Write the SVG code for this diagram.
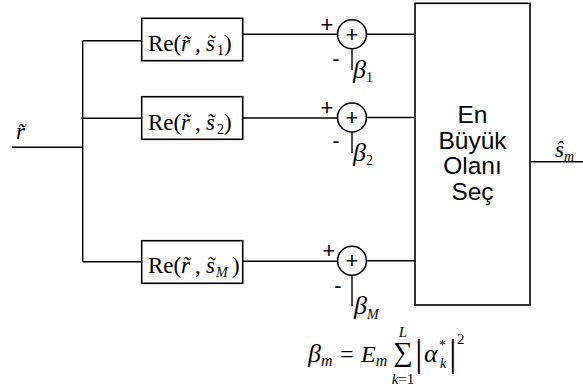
<svg xmlns="http://www.w3.org/2000/svg" width="583" height="387" viewBox="0 0 583 387">
<style>
.ln{stroke:#000;stroke-width:1.4;fill:none}
.bx{stroke:#000;stroke-width:1.6;fill:#fff}
.m{font-family:"Liberation Serif","Times New Roman",serif;font-size:23px;fill:#000}
.i{font-style:italic}
.sub{font-size:14px}
.s{font-family:"Liberation Sans",Arial,sans-serif;fill:#000}
.big{font-size:24.5px;text-anchor:middle}
.pm{font-size:22px;text-anchor:middle}
.beta{font-size:26px}
</style>
<rect width="583" height="387" fill="#fff"/>
<g id="connectors">
<path class="ln" d="M12 147.3H82.7M82.7 40.7V261.7M82.7 40.7H141.7M81.5 118.3H141.7M82.7 261.7H141.7"/>
<path class="ln" d="M242.7 34.3H337.5M242.7 118H337.5M242.7 261.2H337.5"/>
<path class="ln" d="M366.5 34.3H415M366.5 117.5H415M366.5 260.7H415"/>
<path class="ln" d="M352 48.8V70M352 132V153M352 275V306"/>
<path class="ln" d="M530 161.7H583"/>
</g>
<g id="input"><text class="m i" x="16" y="139">r&#771;</text></g>
<g id="re1">
<rect class="bx" x="141.7" y="18.3" width="101" height="42.4"/>
<text class="m" y="51"><tspan x="148">Re(</tspan><tspan class="i" x="181">r&#771;</tspan><tspan x="195">,</tspan><tspan class="i" x="206">s&#771;</tspan><tspan class="sub" x="217" dy="4">1</tspan><tspan x="224" dy="-4">)</tspan></text>
</g>
<g id="re2">
<rect class="bx" x="141.7" y="96.7" width="101" height="42.6"/>
<text class="m" y="129.5"><tspan x="148">Re(</tspan><tspan class="i" x="181">r&#771;</tspan><tspan x="195">,</tspan><tspan class="i" x="206">s&#771;</tspan><tspan class="sub" x="217" dy="4">2</tspan><tspan x="224" dy="-4">)</tspan></text>
</g>
<g id="reM">
<rect class="bx" x="141.7" y="240.7" width="101" height="42.6"/>
<text class="m" y="272.5"><tspan x="148">Re(</tspan><tspan class="i" x="181">r&#771;</tspan><tspan x="195">,</tspan><tspan class="i" x="206">s&#771;</tspan><tspan class="sub i" x="216" dy="4">M</tspan><tspan x="232" dy="-4">)</tspan></text>
</g>
<g id="sum1">
<circle class="bx" cx="352" cy="34.3" r="14.5"/>
<text class="s pm" x="352" y="42">+</text>
<text class="s pm" x="327" y="32">+</text>
<text class="s pm" x="336" y="66">-</text>
<text class="m i beta" x="353" y="78">β<tspan class="sub" font-style="normal" dy="4">1</tspan></text>
</g>
<g id="sum2">
<circle class="bx" cx="352" cy="117.5" r="14.5"/>
<text class="s pm" x="352" y="125.2">+</text>
<text class="s pm" x="327" y="115">+</text>
<text class="s pm" x="336" y="148">-</text>
<text class="m i beta" x="353" y="161">β<tspan class="sub" font-style="normal" dy="4">2</tspan></text>
</g>
<g id="sumM">
<circle class="bx" cx="352" cy="260.7" r="14.5"/>
<text class="s pm" x="352" y="268.4">+</text>
<text class="s pm" x="329" y="258">+</text>
<text class="s pm" x="338" y="293">-</text>
<text class="m i beta" x="354" y="314">β<tspan class="sub" dy="5">M</tspan></text>
</g>
<g id="select">
<rect class="bx" x="415" y="3.3" width="115" height="301.7"/>
<text class="s big" x="472.5" y="123">En</text>
<text class="s big" x="472.5" y="148.5">Büyük</text>
<text class="s big" x="472.5" y="174">Olanı</text>
<text class="s big" x="472.5" y="199.5">Seç</text>
</g>
<g id="output"><text class="m i" x="555" y="157">s&#770;<tspan class="sub" dy="4">m</tspan></text></g>
<g id="formula">
<text class="m i" x="308" y="362" style="font-size:26px">β<tspan style="font-size:16px" dy="4">m</tspan></text>
<text class="m" x="340" y="362" style="font-size:24px">=</text>
<text class="m i" x="361" y="362" style="font-size:24px">E<tspan style="font-size:16px" dy="4">m</tspan></text>
<text class="m" x="403" y="361" style="font-size:27px;text-anchor:middle">∑</text>
<text class="m i" x="403" y="337" style="font-size:15px;text-anchor:middle">L</text>
<text class="m" x="403" y="384" style="font-size:15px;text-anchor:middle"><tspan class="i">k</tspan>=1</text>
<text class="m" x="415" y="366" style="font-size:38px">|</text>
<text class="m i" x="424" y="362" style="font-size:26px">α</text>
<text class="m" x="439" y="350" style="font-size:14px">*</text>
<text class="m i" x="440" y="368" style="font-size:14px">k</text>
<text class="m" x="449" y="366" style="font-size:38px">|</text>
<text class="m" x="457" y="344" style="font-size:15px">2</text>
</g>
</svg>
